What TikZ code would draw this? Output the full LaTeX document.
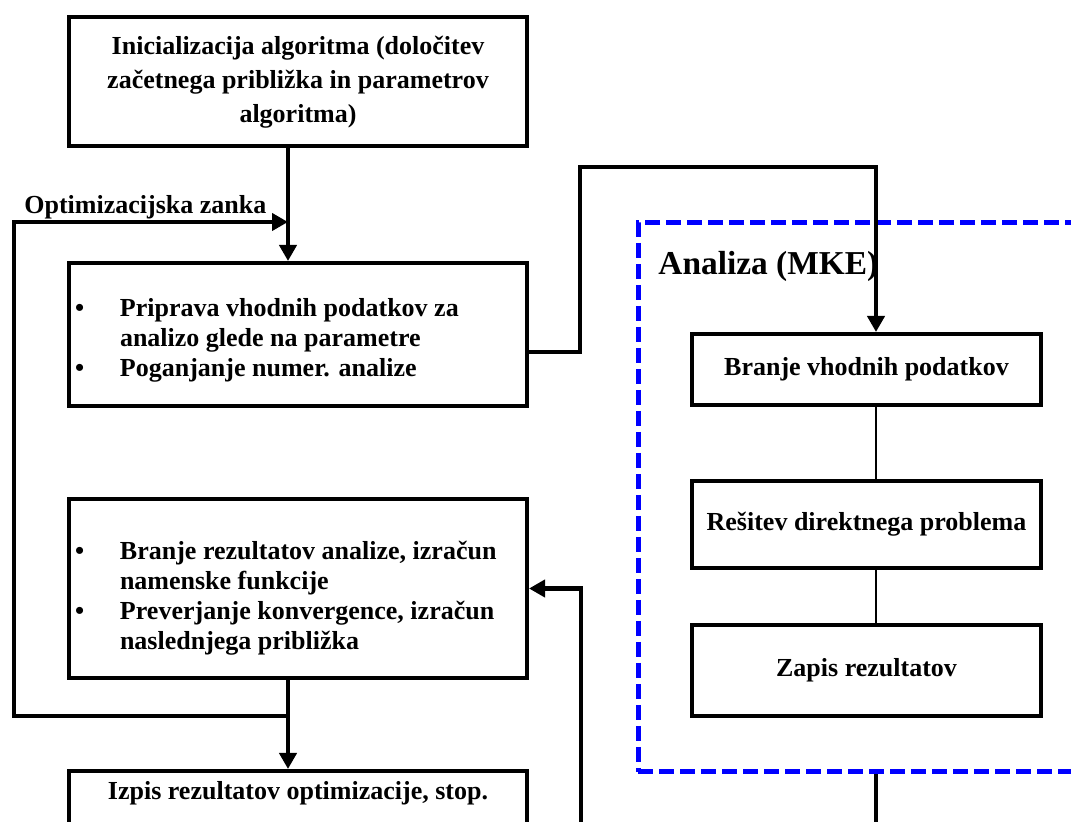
\documentclass[tikz,border=0pt]{standalone}
\usepackage{fontspec}
\setmainfont{Liberation Serif}
\usepackage{xcolor}
\usepackage{tikz}
\usetikzlibrary{arrows.meta, positioning, calc}
\definecolor{mkeblue}{HTML}{0000FF}
\newcommand{\boxfont}{\fontsize{13}{15}\selectfont\bfseries}
\newcommand{\bul}{\hspace*{3pt}\textbullet}
\tikzset{
  stepbox/.style={rectangle, draw=black, fill=white, line width=2pt,
                  inner sep=0pt, font=\boxfont, align=center},
  fembox/.style={stepbox, minimum width=174.5pt},
  mkeframe/.style={rectangle, draw=mkeblue, line width=2.5pt,
                   dash pattern=on 7.5pt off 3pt, inner sep=0pt},
  flow/.style={-{Triangle[length=8pt,width=8.5pt]}, line width=2.3pt},
  wire/.style={line width=2.3pt},
  link/.style={line width=0.8pt},
}

\begin{document}
\begin{tikzpicture}[x=0.5pt, y=-0.5pt]
  \useasboundingbox (0,0) rectangle (1071,822);
  \clip (0,0) rectangle (1071,822);
  % FEM frame
  \node[mkeframe, minimum width=241pt, minimum height=274.5pt] (mke) at (879,497.5) {};
  \node[font=\fontsize{16.7}{20}\selectfont\bfseries, anchor=west, inner sep=0pt] (mketitle) at (658,266) {Analiza (MKE)};
  % optimisation steps
  \node[stepbox, minimum width=229pt, minimum height=64.5pt,
        font=\fontsize{13}{17}\selectfont\bfseries] (init) at (298,82)
        {Inicializacija algoritma (določitev\\ začetnega približka in parametrov\\ algoritma)};
  \node[stepbox, minimum width=229pt, minimum height=71.5pt,
        text height=13.5pt, text depth=31.5pt] (prep) at (298,334.5)
        {\begin{tabular}[t]{@{}p{25.5pt}@{}p{203.5pt}@{}}
         \bul & Priprava vhodnih podatkov za\\
              & analizo glede na parametre\\
         \bul & Poganjanje numer. analize
         \end{tabular}};
  \node[stepbox, minimum width=229pt, minimum height=89.5pt,
        text height=15.5pt, text depth=44.5pt] (eval) at (298,588.5)
        {\begin{tabular}[t]{@{}p{25.5pt}@{}p{203.5pt}@{}}
         \bul & Branje rezultatov analize, izračun\\
              & namenske funkcije\\
         \bul & Preverjanje konvergence, izračun\\
              & naslednjega približka
         \end{tabular}};
  \node[stepbox, minimum width=229pt, anchor=north, text height=9pt, text depth=60pt,
        inner ysep=5.5pt] (out) at (298,769) {Izpis rezultatov optimizacije, stop.};
  \node[font=\boxfont, anchor=west, inner sep=0pt] (looplabel) at (24,207) {Optimizacijska zanka};
  % FEM steps
  \node[fembox, minimum height=35.5pt] (read) at (866.5,369.5) {Branje vhodnih podatkov};
  \node[fembox, minimum height=43.5pt] (solve) at (866.5,524.5) {Rešitev direktnega problema};
  \node[fembox, minimum height=45.5pt] (write) at (866.5,670.5) {Zapis rezultatov};
  % connector axes and bends
  \coordinate (lx) at (288,0);
  \coordinate (rx) at (876,0);
  \coordinate (hop) at (580,167);
  \coordinate (looptop) at (14,222);
  \coordinate (loopbot) at (14,716);
  \coordinate (fbot) at (581,840);
  \coordinate (rbot) at (876,840);
  \draw[flow] (init.south -| lx) -- (prep.north -| lx);
  \draw[flow] (eval.south -| lx) -- (out.north -| lx);
  \draw[flow] (lx |- loopbot) -- (loopbot) -- (looptop) -- (lx |- looptop);
  \draw[flow] ([yshift=-8.75pt]prep.east) -| (hop) -| (read.north -| rx);
  \draw[flow] (fbot) |- (eval.east);
  \draw[link] (read.south -| rx) -- (solve.north -| rx);
  \draw[link] (solve.south -| rx) -- (write.north -| rx);
  \draw[wire] (mke.south -| rx) -- (rbot);
\end{tikzpicture}
\end{document}
